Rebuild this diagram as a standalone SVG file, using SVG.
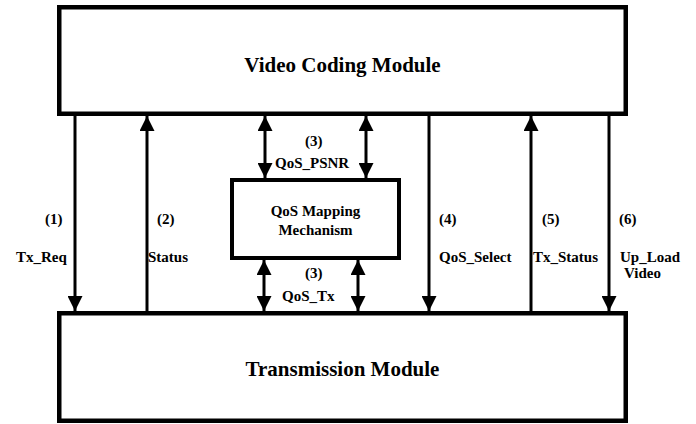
<svg xmlns="http://www.w3.org/2000/svg" width="696" height="424" viewBox="0 0 696 424">
  <defs>
    <marker id="ah" viewBox="0 0 15 15" refX="15" refY="7.5" markerWidth="15" markerHeight="15" markerUnits="userSpaceOnUse" orient="auto-start-reverse">
      <path d="M0,0 L15,7.5 L0,15 Z" fill="#000"/>
    </marker>
    <style>
      .box { fill: #fff; stroke: #000; stroke-width: 4.5; }
      .qbox { fill: #fff; stroke: #000; stroke-width: 4; }
      .title { font-family: "Liberation Serif", "Times New Roman", serif; font-weight: bold; font-size: 21px; text-anchor: middle; fill: #000; }
      .lbl { font-family: "Liberation Serif", "Times New Roman", serif; font-weight: bold; font-size: 15px; fill: #000; }
      .mid { text-anchor: middle; }
      .c { stroke: #000; stroke-width: 3; fill: none; }
      .one { marker-end: url(#ah); }
      .two { marker-start: url(#ah); marker-end: url(#ah); }
    </style>
  </defs>

  <g id="video-coding-module">
    <rect class="box" x="59.25" y="7.25" width="566.5" height="106.5"/>
    <text class="title" x="342.5" y="72">Video Coding Module</text>
  </g>

  <g id="transmission-module">
    <rect class="box" x="59.25" y="313.25" width="566.5" height="107.5"/>
    <text class="title" x="342.5" y="376">Transmission Module</text>
  </g>

  <g id="qos-mapping">
    <rect class="qbox" x="232" y="180" width="167" height="78"/>
    <text class="lbl mid" x="315.5" y="216">QoS Mapping</text>
    <text class="lbl mid" x="315.5" y="235">Mechanism</text>
  </g>

  <g id="connectors">
    <line class="c one" x1="75" y1="116" x2="75" y2="311"/>
    <line class="c one" x1="147" y1="311" x2="147" y2="116"/>
    <line class="c two" x1="265" y1="116" x2="265" y2="178"/>
    <line class="c two" x1="366" y1="116" x2="366" y2="178"/>
    <line class="c two" x1="264" y1="260" x2="264" y2="311"/>
    <line class="c two" x1="358" y1="260" x2="358" y2="311"/>
    <line class="c one" x1="429" y1="116" x2="429" y2="311"/>
    <line class="c one" x1="531" y1="311" x2="531" y2="116"/>
    <line class="c one" x1="609" y1="116" x2="609" y2="311"/>
  </g>

  <g id="labels">
    <text class="lbl" x="45" y="224">(1)</text>
    <text class="lbl" x="16" y="262">Tx_Req</text>
    <text class="lbl" x="157" y="224">(2)</text>
    <text class="lbl" x="148" y="262">Status</text>
    <text class="lbl" x="305" y="146">(3)</text>
    <text class="lbl" x="275" y="168">QoS_PSNR</text>
    <text class="lbl" x="305" y="278">(3)</text>
    <text class="lbl" x="282" y="301">QoS_Tx</text>
    <text class="lbl" x="439" y="224">(4)</text>
    <text class="lbl" x="439" y="262">QoS_Select</text>
    <text class="lbl" x="542" y="224">(5)</text>
    <text class="lbl" x="533" y="262">Tx_Status</text>
    <text class="lbl" x="619" y="224">(6)</text>
    <text class="lbl" x="620" y="262">Up_Load</text>
    <text class="lbl" x="624" y="278">Video</text>
  </g>
</svg>
